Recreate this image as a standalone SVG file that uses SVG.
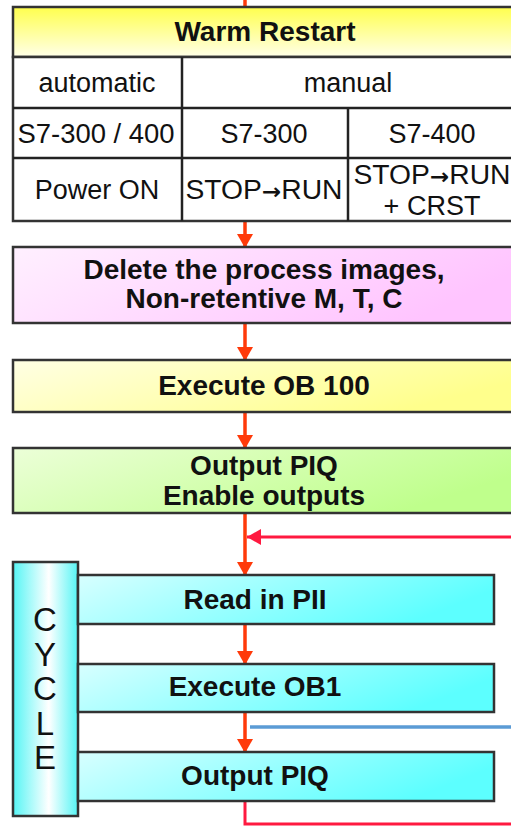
<svg xmlns="http://www.w3.org/2000/svg" width="511" height="827" viewBox="0 0 511 827">
<defs>
<linearGradient id="gHead" x1="0" y1="0" x2="0" y2="1"><stop offset="0" stop-color="#ffff4d"/><stop offset="1" stop-color="#ffffe8"/></linearGradient>
<linearGradient id="gPink" x1="0" y1="0" x2="1" y2="0.3"><stop offset="0" stop-color="#fff0ff"/><stop offset="1" stop-color="#ffc4ff"/></linearGradient>
<linearGradient id="gYel" x1="0" y1="0" x2="1" y2="0.4"><stop offset="0" stop-color="#ffffe4"/><stop offset="1" stop-color="#ffff8c"/></linearGradient>
<linearGradient id="gGreen" x1="0" y1="0" x2="1" y2="0.4"><stop offset="0" stop-color="#ecffd8"/><stop offset="1" stop-color="#bfff8c"/></linearGradient>
<linearGradient id="gCyan" x1="0" y1="0" x2="1" y2="0.3"><stop offset="0" stop-color="#d8ffff"/><stop offset="1" stop-color="#5cffff"/></linearGradient>
<linearGradient id="gBar" x1="0" y1="0" x2="1" y2="0"><stop offset="0" stop-color="#55f5f5"/><stop offset="0.55" stop-color="#ffffff"/><stop offset="1" stop-color="#55f5f5"/></linearGradient>
<marker id="ah" markerUnits="userSpaceOnUse" markerWidth="16" markerHeight="16" refX="14" refY="8" orient="auto"><path d="M0,0 L14,8 L0,16 Z" fill="#ff3a0a"/></marker>
<marker id="ahL" markerUnits="userSpaceOnUse" markerWidth="16" markerHeight="16" refX="14" refY="8" orient="auto"><path d="M0,0 L14,8 L0,16 Z" fill="#ff1a40"/></marker>
</defs>
<style>
.box{stroke:#333;stroke-width:2.5}
.t{font-family:"Liberation Sans",Arial,sans-serif;font-size:27px;fill:#111;text-anchor:middle}
.b{font-weight:bold;font-size:28px}
.cy{font-size:33px}
.arw{font-family:"DejaVu Sans",sans-serif;font-weight:bold}
.ln{stroke:#222;stroke-width:2.5;fill:none}
.ar{stroke:#ff3a0a;stroke-width:3.5;fill:none}
.lp{stroke:#ff1a40;stroke-width:3;fill:none}
</style>
<g id="connectors">
<line class="ar" x1="245" y1="0" x2="245" y2="8"/>
<line class="ar" x1="245" y1="221" x2="245" y2="248" marker-end="url(#ah)"/>
<line class="ar" x1="245" y1="323" x2="245" y2="361" marker-end="url(#ah)"/>
<line class="ar" x1="245" y1="412" x2="245" y2="449" marker-end="url(#ah)"/>
<line class="ar" x1="245" y1="513" x2="245" y2="576" marker-end="url(#ah)"/>
<line class="lp" x1="511" y1="537" x2="247" y2="537" marker-end="url(#ahL)"/>
<line class="ar" x1="245" y1="624" x2="245" y2="665" marker-end="url(#ah)"/>
<line class="ar" x1="245" y1="712" x2="245" y2="753" marker-end="url(#ah)"/>
<polyline class="lp" points="245,801 245,824 511,824"/>
<line x1="250" y1="727" x2="511" y2="727" stroke="#5b9bd5" stroke-width="3.5"/>
</g>
<g id="warm-restart">
<rect x="13" y="7" width="505" height="50" fill="url(#gHead)" class="box"/>
<rect x="13" y="57" width="505" height="164" fill="#fff" class="box"/>
<line class="ln" x1="13" y1="108" x2="518" y2="108"/>
<line class="ln" x1="13" y1="158" x2="518" y2="158"/>
<line class="ln" x1="182" y1="57" x2="182" y2="221"/>
<line class="ln" x1="348" y1="108" x2="348" y2="221"/>
<text class="t b" x="265" y="41">Warm Restart</text>
<text class="t" x="97" y="92">automatic</text>
<text class="t" x="348" y="92">manual</text>
<text class="t" x="96" y="143" textLength="157" lengthAdjust="spacingAndGlyphs">S7-300 / 400</text>
<text class="t" x="264" y="143">S7-300</text>
<text class="t" x="432" y="143">S7-400</text>
<text class="t" x="97" y="199">Power ON</text>
<text class="t" x="264" y="199" textLength="157" lengthAdjust="spacingAndGlyphs">STOP<tspan class="arw" font-size="22">→</tspan>RUN</text>
<text class="t" x="432" y="184" textLength="157" lengthAdjust="spacingAndGlyphs">STOP<tspan class="arw" font-size="22">→</tspan>RUN</text>
<text class="t" x="432" y="215">+ CRST</text>
</g>
<g id="delete">
<rect x="13" y="247" width="505" height="76" fill="url(#gPink)" class="box"/>
<text class="t b" x="264" y="279">Delete the process images,</text>
<text class="t b" x="264" y="308">Non-retentive M, T, C</text>
</g>
<g id="ob100">
<rect x="13" y="360" width="505" height="52" fill="url(#gYel)" class="box"/>
<text class="t b" x="264" y="395">Execute OB 100</text>
</g>
<g id="output-enable">
<rect x="13" y="448" width="505" height="65" fill="url(#gGreen)" class="box"/>
<text class="t b" x="264" y="475">Output PIQ</text>
<text class="t b" x="264" y="505">Enable outputs</text>
</g>
<g id="cycle">
<rect x="13" y="562" width="65" height="254" fill="url(#gBar)" class="box"/>
<text class="t cy" x="45" y="631">C</text>
<text class="t cy" x="45" y="666">Y</text>
<text class="t cy" x="45" y="700">C</text>
<text class="t cy" x="45" y="735">L</text>
<text class="t cy" x="45" y="769">E</text>
</g>
<g id="read-pii">
<rect x="78" y="575" width="416" height="49" fill="url(#gCyan)" class="box"/>
<text class="t b" x="255" y="609">Read in PII</text>
</g>
<g id="ob1">
<rect x="78" y="664" width="416" height="48" fill="url(#gCyan)" class="box"/>
<text class="t b" x="255" y="696">Execute OB1</text>
</g>
<g id="output-piq">
<rect x="78" y="752" width="416" height="49" fill="url(#gCyan)" class="box"/>
<text class="t b" x="255" y="785">Output PIQ</text>
</g>
</svg>
